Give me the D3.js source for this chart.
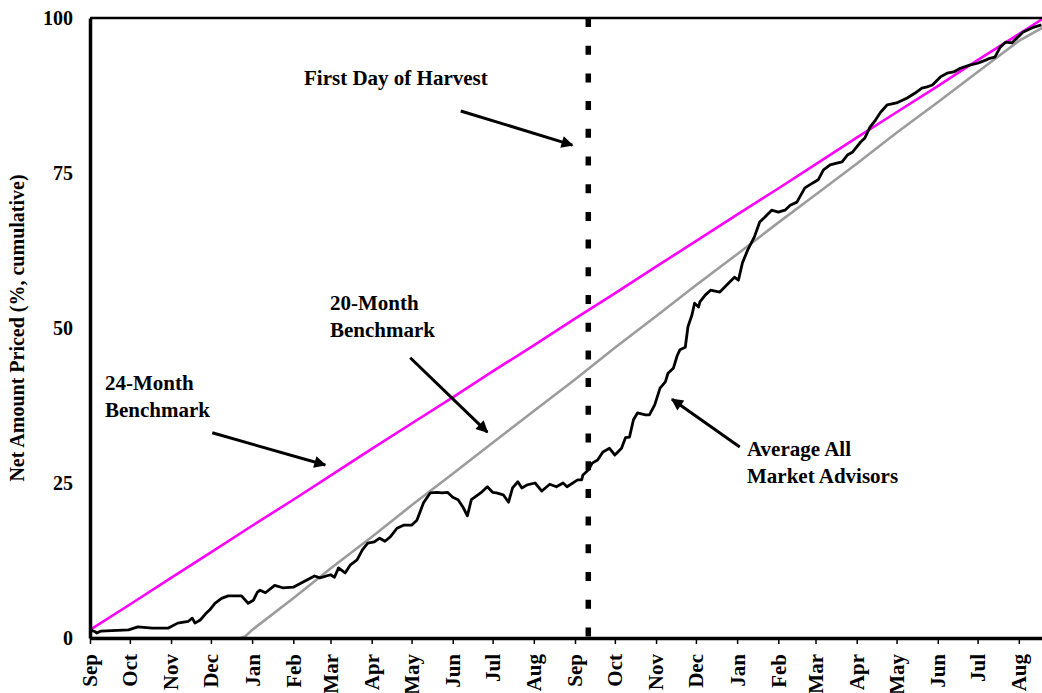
<!DOCTYPE html>
<html lang="en">
<head>
<meta charset="UTF-8">
<title>Net Amount Priced</title>
<script src="https://cdnjs.cloudflare.com/ajax/libs/d3/7.9.0/d3.min.js"></script>
<style>
  body { margin: 0; background: #fff; }
  text { font-family: "Liberation Serif", "Times New Roman", serif; font-weight: bold; fill: #000; }
</style>
</head>
<body>
<svg id="chart" width="1042" height="693"></svg>
<script>
// marketing window starts Sep 1, values keyed by day offset from start
const startDate = new Date(2000, 8, 1);
const endDate = new Date(2002, 8, 1);
const harvestDay = 375;

const yTicks = [0, 25, 50, 75, 100];

const bench24Day = [0, 30, 61, 91, 122, 153, 181, 212, 242, 273, 303, 334, 365, 395, 426, 456, 487, 518, 546, 577, 607, 638, 668, 699, 718];
const bench24Pct = [1.3, 5.4, 9.7, 13.8, 18.1, 22.3, 26.2, 30.5, 34.6, 38.8, 43.0, 47.2, 51.5, 55.6, 59.9, 64.0, 68.3, 72.5, 76.4, 80.7, 84.8, 89.0, 93.2, 97.4, 100];

const bench20Day = [0, 113, 117, 122, 153, 181, 212, 242, 273, 303, 334, 365, 395, 426, 456, 487, 518, 546, 577, 607, 638, 668, 699, 730];
const bench20Pct = [0, 0, 0.3, 1.3, 6.4, 11.2, 16.3, 21.4, 26.5, 31.5, 36.6, 41.7, 46.8, 51.9, 56.9, 61.9, 67.0, 71.5, 76.5, 81.5, 86.4, 91.3, 96.3, 100];

const advisorDay = [0, 4, 5, 8, 29, 36, 47, 59, 66, 74, 77, 79, 83, 87, 90, 94, 99, 104, 114, 119,
  123, 126, 128, 132, 139, 145, 153, 160, 169, 173, 181, 184, 187, 192, 196, 201, 205, 209, 214, 218,
  222, 226, 231, 236, 242, 246, 251, 256, 261, 265, 269, 273, 277, 281, 284, 287, 294, 299, 303, 306,
  311, 315, 318, 322, 325, 329, 335, 340, 346, 351, 356, 359, 367, 370, 371, 375, 378, 382, 386, 391,
  395, 400, 403, 406, 409, 412, 418, 421, 425, 429, 433, 435, 439, 442, 444, 448, 450, 453, 455, 458,
  459, 463, 467, 474, 479, 485, 488, 491, 495, 500, 504, 508, 513, 518, 523, 527, 532, 538, 544, 548,
  552, 557, 562, 566, 570, 574, 580, 583, 587, 591, 595, 600, 607, 615, 621, 626, 630, 634, 640, 645,
  650, 655, 662, 668, 674, 677, 681, 685, 689, 694, 702, 706, 710, 716];
const advisorPct = [1.3, 1.0, 0.8, 1.1, 1.3, 1.8, 1.6, 1.6, 2.4, 2.7, 3.2, 2.4, 2.9, 3.9, 4.5, 5.6, 6.4, 6.8, 6.8, 5.6,
  6.1, 7.4, 7.7, 7.3, 8.5, 8.1, 8.2, 9.0, 10.0, 9.7, 10.2, 9.8, 11.3, 10.5, 11.8, 12.6, 14.2, 15.3, 15.5, 16.1,
  15.6, 16.3, 17.7, 18.2, 18.2, 19.0, 21.8, 23.4, 23.5, 23.4, 23.5, 22.7, 22.3, 21.0, 19.7, 22.3, 23.4, 24.4, 23.5, 23.4,
  23.1, 21.9, 24.2, 25.2, 24.2, 24.7, 25.0, 23.7, 24.8, 24.4, 25.0, 24.4, 25.5, 25.5, 26.3, 27.1, 28.2, 28.7, 30.0, 30.6,
  29.5, 30.6, 32.3, 32.4, 35.2, 36.3, 36.0, 36.0, 37.6, 40.3, 41.3, 42.7, 43.5, 45.6, 46.5, 46.9, 50.2, 52.1, 54.0, 53.4,
  54.2, 55.3, 56.1, 55.8, 56.9, 58.2, 57.7, 60.5, 62.6, 64.7, 67.1, 67.9, 69.0, 68.7, 69.0, 69.8, 70.3, 72.6, 73.4, 73.9,
  75.5, 76.3, 76.6, 76.8, 77.9, 78.4, 80.0, 80.6, 82.4, 83.5, 84.8, 86.0, 86.3, 87.1, 87.9, 88.7, 88.9, 89.2, 90.5, 91.1,
  91.3, 91.9, 92.4, 92.7, 93.2, 93.5, 93.7, 95.3, 96.1, 96.0, 97.7, 98.1, 98.5, 98.9];

// arrows: [tailDay, tailPct, tipDay, tipPct]
const arrows = [
  [279, 85.0, 363.5, 79.5],
  [241, 45.2, 299.5, 33.2],
  [92.6, 33.1, 177, 27.9],
  [489, 30.8, 438, 38.5]
];

const svg = d3.select("#chart");
const margin = { left: 90, top: 18, right: 1060, bottom: 638 };

const x = d3.scaleTime().domain([startDate, endDate]).range([margin.left, margin.right]);
const y = d3.scaleLinear().domain([0, 100]).range([margin.bottom, margin.top]);
const dayDate = d => d3.timeDay.offset(startDate, d);

const line = d3.line()
  .x(d => x(dayDate(d[0])))
  .y(d => y(d[1]));

svg.append("defs").append("marker")
  .attr("id", "head")
  .attr("viewBox", "0 0 10 10")
  .attr("refX", 9).attr("refY", 5)
  .attr("markerWidth", 5).attr("markerHeight", 4)
  .attr("markerUnits", "strokeWidth")
  .attr("orient", "auto")
  .append("path").attr("d", "M0,0L10,5L0,10z").attr("fill", "#000");

// harvest line
svg.append("line")
  .attr("x1", x(dayDate(harvestDay))).attr("x2", x(dayDate(harvestDay)))
  .attr("y1", y(100)).attr("y2", y(0))
  .attr("stroke", "#000").attr("stroke-width", 5.5)
  .attr("stroke-dasharray", "9,18.7");

svg.append("path")
  .datum(d3.zip(bench20Day, bench20Pct))
  .attr("d", line).attr("fill", "none")
  .attr("stroke", "#9c9c9c").attr("stroke-width", 2.6);

svg.append("path")
  .datum(d3.zip(bench24Day, bench24Pct))
  .attr("d", line).attr("fill", "none")
  .attr("stroke", "#ff00ff").attr("stroke-width", 2.6);

svg.append("path")
  .datum(d3.zip(advisorDay, advisorPct))
  .attr("d", line).attr("fill", "none")
  .attr("stroke", "#000").attr("stroke-width", 2.8)
  .attr("stroke-linejoin", "round");

// frame
svg.append("line")
  .attr("x1", margin.left).attr("x2", margin.right)
  .attr("y1", margin.top).attr("y2", margin.top)
  .attr("stroke", "#000").attr("stroke-width", 2.5);

const xAxis = svg.append("g")
  .attr("transform", `translate(0,${margin.bottom})`)
  .call(d3.axisBottom(x)
    .tickValues(d3.timeMonth.range(startDate, endDate))
    .tickFormat(d3.timeFormat("%b"))
    .tickSize(6).tickSizeOuter(0));
xAxis.select(".domain").attr("stroke-width", 3.5);
xAxis.selectAll(".tick line").attr("stroke-width", 1.5);
xAxis.selectAll(".tick text")
  .attr("font-size", 21)
  .attr("text-anchor", "end")
  .attr("transform", "rotate(-90)")
  .attr("x", -16).attr("y", 0).attr("dy", "0.33em");

const yAxis = svg.append("g")
  .attr("transform", `translate(${margin.left},0)`)
  .call(d3.axisLeft(y).tickValues(yTicks).tickSize(0).tickPadding(17));
yAxis.select(".domain").attr("stroke-width", 3.5);
yAxis.selectAll(".tick text").attr("font-size", 20);

svg.append("text")
  .attr("transform", `translate(24,${y(50)}) rotate(-90)`)
  .attr("text-anchor", "middle")
  .attr("font-size", 20)
  .text("Net Amount Priced (%, cumulative)");

// annotations
const notes = [
  [304, 85, ["First Day of Harvest"]],
  [330, 310, ["20-Month", "Benchmark"]],
  [105, 390, ["24-Month", "Benchmark"]],
  [747, 456, ["Average All", "Market Advisors"]]
];
notes.forEach(([nx, ny, lines]) => {
  const t = svg.append("text").attr("font-size", 21);
  lines.forEach((s, i) => t.append("tspan").attr("x", nx).attr("y", ny + i * 27).text(s));
});

svg.append("g").selectAll("line").data(arrows).join("line")
  .attr("x1", d => x(dayDate(d[0]))).attr("y1", d => y(d[1]))
  .attr("x2", d => x(dayDate(d[2]))).attr("y2", d => y(d[3]))
  .attr("stroke", "#000").attr("stroke-width", 3)
  .attr("marker-end", "url(#head)");
</script>
</body>
</html>
